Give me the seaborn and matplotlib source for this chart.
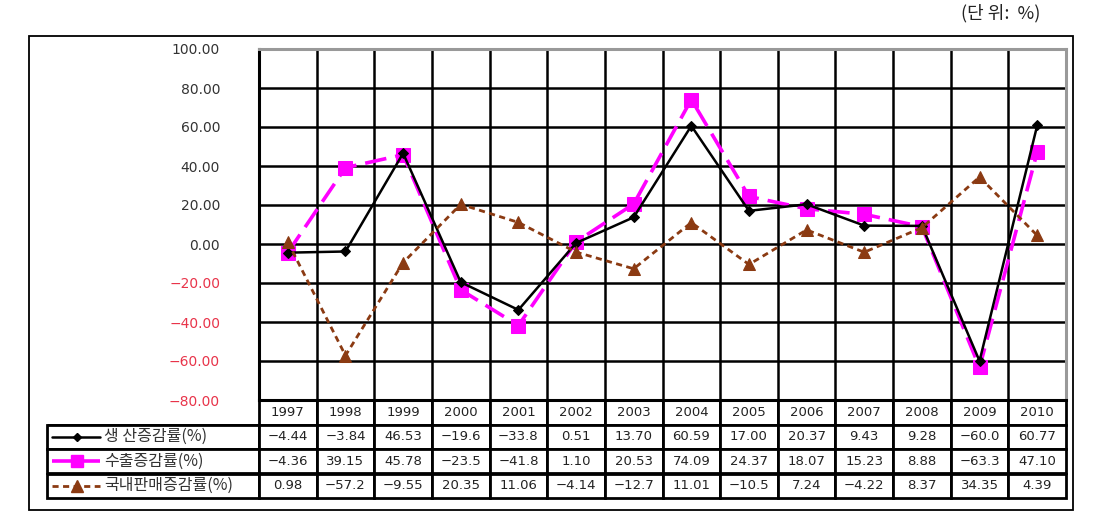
import numpy as np
import pandas as pd
import seaborn as sns
import matplotlib.pyplot as plt
from matplotlib.lines import Line2D
from matplotlib.patches import Rectangle

years = ['1997', '1998', '1999', '2000', '2001', '2002', '2003',
         '2004', '2005', '2006', '2007', '2008', '2009', '2010']
production = [-4.44, -3.84, 46.53, -19.6, -33.8, 0.51, 13.70,
              60.59, 17.00, 20.37, 9.43, 9.28, -60.0, 60.77]
exports = [-4.36, 39.15, 45.78, -23.5, -41.8, 1.10, 20.53,
           74.09, 24.37, 18.07, 15.23, 8.88, -63.3, 47.10]
domestic = [0.98, -57.2, -9.55, 20.35, 11.06, -4.14, -12.7,
            11.01, -10.5, 7.24, -4.22, 8.37, 34.35, 4.39]
series_names = ['생 산증감률(%)', '수출증감률(%)', '국내판매증감률(%)']
y_ticks = [-80, -60, -40, -20, 0, 20, 40, 60, 80, 100]

sns.set_style("white")
plt.rcParams['font.family'] = ['Noto Sans CJK KR', 'DejaVu Sans']

W, H = 1097, 526
fig = plt.figure(figsize=(W / 100, H / 100), dpi=100)

# plot area in pixel coordinates of the reference
px_l, px_r, px_t, px_b = 259, 1066, 49, 400
ax = fig.add_axes([px_l / W, 1 - px_b / H, (px_r - px_l) / W, (px_b - px_t) / H])

df = pd.DataFrame({'pos': np.arange(len(years)), 'prod': production,
                   'exp': exports, 'dom': domestic})

styles = {
    'prod': dict(color='black', marker='D', markersize=5, linewidth=1.8,
                 linestyle='-', markeredgecolor='black'),
    'exp': dict(color='#FF00FF', marker='s', markersize=10, linewidth=2.6,
                linestyle=(0, (6, 2.5)), markeredgecolor='#FF00FF'),
    'dom': dict(color='#8B3A12', marker='^', markersize=9, linewidth=2.0,
                linestyle=(0, (2.2, 1.6)), markeredgecolor='#8B3A12'),
}

for col in ['exp', 'prod', 'dom']:
    sns.lineplot(data=df, x='pos', y=col, ax=ax, zorder=3, **styles[col])

ax.set_xlim(-0.5, len(years) - 0.5)
ax.set_ylim(y_ticks[0], y_ticks[-1])
ax.set_xticks(np.arange(-0.5, len(years), 1.0))
ax.set_xticklabels([])
ax.set_yticks(y_ticks)
ax.set_yticklabels(['{:.2f}'.format(v).replace('-', '\u2212') for v in y_ticks])
for lab, v in zip(ax.get_yticklabels(), y_ticks):
    lab.set_color('#E8344A' if v < 0 else '#333333')
    lab.set_fontsize(10)
    lab.set_fontfamily('DejaVu Sans')
ax.tick_params(axis='both', length=0, pad=28)
ax.grid(True, color='black', linewidth=1.8, zorder=1)
ax.set_axisbelow(True)
ax.set_xlabel('')
ax.set_ylabel('')
for side in ['left', 'bottom']:
    ax.spines[side].set_color('black')
    ax.spines[side].set_linewidth(2.2)
for side in ['top', 'right']:
    ax.spines[side].set_color('#999999')
    ax.spines[side].set_linewidth(2.2)
if ax.get_legend() is not None:
    ax.get_legend().remove()


def fmt(v):
    if v < 0 and abs(v) >= 10:
        s = '{:.1f}'.format(v)
    else:
        s = '{:.2f}'.format(v)
    return s.replace('-', '\u2212')


# data table below the plot
tbl_l, tbl_r, tbl_t, tbl_b = 47, 1066, 400, 498
label_w = px_l - tbl_l
year_w = (px_r - px_l) / len(years)
cell_text = [[''] + years]
for vals in [production, exports, domestic]:
    cell_text.append([''] + [fmt(v) for v in vals])

tw = tbl_r - tbl_l
table = ax.table(cellText=cell_text,
                 colWidths=[label_w / tw] + [year_w / tw] * len(years),
                 bbox=[(tbl_l - px_l) / (px_r - px_l), -(tbl_b - tbl_t) / (px_b - px_t),
                       tw / (px_r - px_l), (tbl_b - tbl_t) / (px_b - px_t)],
                 cellLoc='center')
table.auto_set_font_size(False)
for (r, c), cell in table.get_celld().items():
    cell.set_linewidth(2.0)
    cell.set_edgecolor('black')
    cell.set_facecolor('white')
    cell.get_text().set_color('#222222')
    cell.get_text().set_fontsize(9.5)
    cell.get_text().set_fontfamily('DejaVu Sans')
    if c == 0 and r == 0:
        cell.visible_edges = 'B'

# legend samples and names inside the label column
row_h = (tbl_b - tbl_t) / 4
for i, (col, name) in enumerate(zip(['prod', 'exp', 'dom'], series_names)):
    yc = 1 - (tbl_t + row_h * (i + 1.5)) / H
    st = styles[col]
    fig.add_artist(Line2D([52 / W, 100 / W], [yc, yc], color=st['color'],
                          linewidth=st['linewidth'], linestyle=st['linestyle'],
                          transform=fig.transFigure, zorder=5))
    fig.add_artist(Line2D([77 / W], [yc], color=st['color'], marker=st['marker'],
                          markersize=st['markersize'] * 0.9, linestyle='none',
                          transform=fig.transFigure, zorder=6))
    fig.text(104 / W, yc, name, ha='left', va='center', fontsize=11.5,
             color='#333333', zorder=7)

# outer frame and unit note
fig.add_artist(Rectangle((29 / W, 1 - 510 / H), (1073 - 29) / W, (510 - 36) / H,
                         fill=False, edgecolor='black', linewidth=1.3,
                         transform=fig.transFigure))
fig.text(1040 / W, 1 - 13 / H, '(단 위:  %)', ha='right', va='center', fontsize=13,
         color='#222222')

fig.savefig('out.png', dpi=100)
